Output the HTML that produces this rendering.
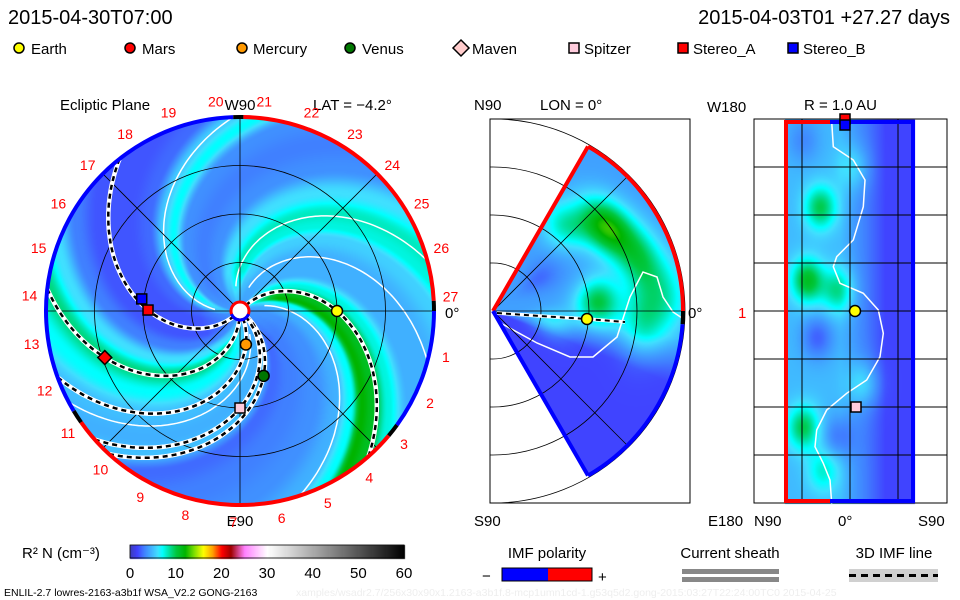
<!DOCTYPE html>
<html><head><meta charset="utf-8">
<style>
html,body{margin:0;padding:0;background:#fff;}
#wrap{position:relative;width:960px;height:600px;overflow:hidden;background:#fff;font-family:"Liberation Sans",sans-serif;}
canvas,svg{position:absolute;left:0;top:0;}
</style></head>
<body>
<div id="wrap">
<canvas id="cv" width="960" height="600"></canvas>
<svg id="sv" width="960" height="600" viewBox="0 0 960 600" font-family="Liberation Sans, sans-serif">
  <text x="8" y="24" font-size="20">2015-04-30T07:00</text>
  <text x="950" y="24" font-size="20" text-anchor="end">2015-04-03T01 +27.27 days</text>
  <g id="legend" font-size="15">
    <g><circle cx="19" cy="48" r="5" fill="#ff0" stroke="#000" stroke-width="1.5"/><text x="31" y="54">Earth</text></g>
    <g><circle cx="130" cy="48" r="5" fill="#f00" stroke="#000" stroke-width="1.5"/><text x="142" y="54">Mars</text></g>
    <g><circle cx="242" cy="48" r="5" fill="#f90" stroke="#000" stroke-width="1.5"/><text x="253" y="54">Mercury</text></g>
    <g><circle cx="350" cy="48" r="5" fill="#070" stroke="#000" stroke-width="1.5"/><text x="362" y="54">Venus</text></g>
    <g><path d="M461 40 L469 48 L461 56 L453 48 Z" fill="#fcc" stroke="#000" stroke-width="1.5"/><text x="472" y="54">Maven</text></g>
    <g><rect x="569" y="43" width="10" height="10" fill="#fcd" stroke="#000" stroke-width="1.5"/><text x="584" y="54">Spitzer</text></g>
    <g><rect x="678" y="43" width="10" height="10" fill="#f00" stroke="#000" stroke-width="1.5"/><text x="693" y="54">Stereo_A</text></g>
    <g><rect x="788" y="43" width="10" height="10" fill="#00f" stroke="#000" stroke-width="1.5"/><text x="803" y="54">Stereo_B</text></g>
  </g>
  <g font-size="15">
    <text x="60" y="110">Ecliptic Plane</text>
    <text x="240" y="110" text-anchor="middle">W90</text>
    <text x="313" y="110">LAT = −4.2°</text>
    <text x="240" y="526" text-anchor="middle">E90</text>
    <text x="474" y="110">N90</text>
    <text x="540" y="110">LON = 0°</text>
    <text x="474" y="526">S90</text>
    <text x="445" y="318">0°</text>
    <text x="688" y="318">0°</text>
    <text x="707" y="112">W180</text>
    <text x="804" y="110">R = 1.0 AU</text>
    <text x="708" y="526">E180</text>
    <text x="754" y="526">N90</text>
    <text x="838" y="526">0°</text>
    <text x="918" y="526">S90</text>
    <text x="738" y="318" fill="#f00">1</text>
  </g>
  <g id="ecl"></g>
  <g id="mer"></g>
  <g id="rgt"></g>
  <g id="cbar">
    <text x="22" y="558" font-size="15">R² N (cm⁻³)</text>
  </g>
  <g font-size="15">
    <text x="547" y="558" text-anchor="middle">IMF polarity</text>
    <text x="482" y="581">−</text>
    <rect x="502" y="568" width="46" height="13" fill="#00f"/>
    <rect x="548" y="568" width="44" height="13" fill="#f00"/>
    <rect x="502" y="568" width="90" height="13" fill="none" stroke="#000"/>
    <text x="598" y="582">+</text>
    <text x="730" y="558" text-anchor="middle">Current sheath</text>
    <rect x="682" y="569" width="97" height="5" fill="#888"/>
    <rect x="682" y="577" width="97" height="5" fill="#888"/>
    <text x="894" y="558" text-anchor="middle">3D IMF line</text>
    <rect x="849" y="569" width="89" height="13" fill="#d0d0d0"/>
    <line x1="849" y1="575.5" x2="938" y2="575.5" stroke="#000" stroke-width="3" stroke-dasharray="7,5"/>
  </g>
  <text x="4" y="596" font-size="10.5">ENLIL-2.7 lowres-2163-a3b1f WSA_V2.2 GONG-2163</text>
  <text x="296" y="596" font-size="10.5" fill="#eee">xamples/wsadr2.7/256x30x90x1.2163-a3b1f.8-mcp1umn1cd-1.g53q5d2.gong-2015:03:27T22:24:00TC0    2015-04-25</text>
</svg>
</div>
<script>
// ---- data ----
const colorStops = [0,1.5,3,4.5,6,7,8.5,10,12,14,16,18,20,22,25,30,60];
const colorRGB = [[60,60,190],[64,64,255],[64,128,255],[64,176,255],[64,224,255],[0,255,255],[0,224,160],[0,200,64],[0,180,0],[128,224,0],[255,255,0],[255,160,0],[255,0,0],[160,0,0],[255,128,255],[255,255,255],[0,0,0]];
const colorbarTicks = [0,10,20,30,40,50,60];
const spiralPhase = [0,15,30,42,52,58,65,75,90,110,125,135,145,160,175,188,200,212,225,245,258,268,275,285,300,315,330,343,352,360];
const spiralDensity = [5.5,4.5,4.5,7.5,11,12,7,4.5,3.5,3,2.5,5,4.5,5,7,9,6,3,2,2,2.5,5.5,7,3.5,3,3.5,6,8,7.5,5.5];
const sheathPhase = [268,345,15,72,138,152];
const bodyNames = ['earth','mars','mercury','venus','spitzer','stereo-a','stereo-b'];
const bodyR = [97,143,34,69,97,92,99];
const bodyTheta = [0,161,80,70,90,180.6,187];
const fieldLineBodies = ['earth','mars','mercury','venus','spitzer','stereo-a'];
const merBlobR = [141,112,155,105,150,175,60,57];
const merBlobLat = [37,50,20,5,-3,5,-12,36];
const merBlobAmp = [8,4,5,6,4,3,2.5,-1.5];
const rgtBlobX = [820,807,837,803,823,863,817,837,853,803];
const rgtBlobY = [207,280,290,427,470,383,337,437,167,140];
const rgtBlobAmp = [5,6,4,5,3,2.5,-2.5,-2,2,-1.5];

const NS='http://www.w3.org/2000/svg';
function mk(tag, attrs, parent){const e=document.createElementNS(NS,tag);for(const k in attrs)e.setAttribute(k,attrs[k]);parent.appendChild(e);return e;}
function cmap(v){
  if(v<=colorStops[0])return colorRGB[0];
  for(let i=1;i<colorStops.length;i++){if(v<=colorStops[i]){const t=(v-colorStops[i-1])/(colorStops[i]-colorStops[i-1]);const a=colorRGB[i-1],b=colorRGB[i];return [a[0]+(b[0]-a[0])*t,a[1]+(b[1]-a[1])*t,a[2]+(b[2]-a[2])*t];}}
  return colorRGB[colorRGB.length-1];
}
function prof(p){p=((p%360)+360)%360;for(let i=1;i<spiralPhase.length;i++){if(p<=spiralPhase[i]){let t=(p-spiralPhase[i-1])/(spiralPhase[i]-spiralPhase[i-1]);t=(1-Math.cos(Math.PI*t))/2;return spiralDensity[i-1]+(spiralDensity[i]-spiralDensity[i-1])*t;}}return spiralDensity[0];}

const CX=240,CY=311,R=194,K=0.5;
const cv=document.getElementById('cv');const ctx=cv.getContext('2d');
const img=ctx.createImageData(960,600);const D=img.data;
function put(x,y,v){const c=cmap(v);const i=(y*960+x)*4;D[i]=c[0];D[i+1]=c[1];D[i+2]=c[2];D[i+3]=255;}
// ecliptic field
for(let y=CY-R;y<=CY+R;y++)for(let x=CX-R;x<=CX+R;x++){const dx=x-CX,dy=y-CY,r=Math.hypot(dx,dy);if(r>R)continue;const th=Math.atan2(dy,dx)*180/Math.PI;let v=prof(th+K*(R-r));if(r<40)v=v*(r/40)+4*(1-r/40);put(x,y,v);}
// meridional field
const MX=493,MY=311,MR=190;
for(let y=119;y<=503;y++)for(let x=MX;x<=MX+MR;x++){const dx=x-MX,dy=MY-y,r=Math.hypot(dx,dy);if(r>MR)continue;const lat=Math.atan2(dy,dx)*180/Math.PI;if(Math.abs(lat)>60)continue;
  let base=lat>-8?4:(lat<-22?1.6:4-(-8-lat)/14*2.4);let v=base;
  for(let i=0;i<merBlobR.length;i++){v+=merBlobAmp[i]*Math.exp(-Math.pow((r-merBlobR[i])/22,2)-Math.pow((lat-merBlobLat[i])/13,2));}
  put(x,y,v);}
// right panel field
for(let y=119;y<=503;y++)for(let x=785;x<=914;x++){let base=x<840?4.8:(x>885?1.6:4.8-(x-840)/45*3.2);let v=base;
  for(let i=0;i<rgtBlobX.length;i++){v+=rgtBlobAmp[i]*Math.exp(-Math.pow((x-rgtBlobX[i])/16,2)-Math.pow((y-rgtBlobY[i])/22,2));}
  put(x,y,v);}
// colorbar
for(let x=130;x<=404;x++){const v=(x-130)/274*60;for(let y=545;y<=558;y++)put(x,y,v);}
ctx.putImageData(img,0,0);

// ---- ecliptic overlay ----
const ecl=document.getElementById('ecl');
function spiralPts(psi,r0,r1,cx,cy){const pts=[];for(let r=r0;r<=r1;r+=2){const th=(psi-K*(R-r))*Math.PI/180;pts.push((cx+r*Math.cos(th)).toFixed(1)+','+(cy+r*Math.sin(th)).toFixed(1));}return pts.join(' ');}
sheathPhase.forEach((p,i)=>{const l=mk('polyline',{points:spiralPts(p,25,R,CX,CY),fill:'none',stroke:'#fff','stroke-width':1.5},ecl);
  
  });
[48.5,97,145.5].forEach((rr,i)=>{const c=mk('circle',{cx:CX,cy:CY,r:rr,fill:'none',stroke:'#000','stroke-width':0.8},ecl);
  
  });
[0,45,90,135].forEach(a=>{const t=a*Math.PI/180;const l=mk('line',{x1:CX-R*Math.cos(t),y1:CY-R*Math.sin(t),x2:CX+R*Math.cos(t),y2:CY+R*Math.sin(t),stroke:'#000','stroke-width':0.8},ecl);
  
  });
fieldLineBodies.forEach(n=>{const i=bodyNames.indexOf(n);const psi=bodyTheta[i]+K*(R-bodyR[i]);const pts=spiralPts(psi,8,R,CX,CY);
  const w=mk('polyline',{points:pts,fill:'none',stroke:'#fff','stroke-width':4.5},ecl);
  
  
  const b=mk('polyline',{points:pts,fill:'none',stroke:'#000','stroke-width':2.5,'stroke-dasharray':'5,4'},ecl);
  
  });
function arc(cx,cy,r,a0,a1,col,w,g,name){const p0=[cx+r*Math.cos(a0*Math.PI/180),cy+r*Math.sin(a0*Math.PI/180)],p1=[cx+r*Math.cos(a1*Math.PI/180),cy+r*Math.sin(a1*Math.PI/180)];const large=(a1-a0)>180?1:0;
  const e=mk('path',{d:`M${p0[0]},${p0[1]} A${r},${r} 0 ${large} 1 ${p1[0]},${p1[1]}`,fill:'none',stroke:col,'stroke-width':w},g);
  
  }
arc(CX,CY,R,-89,-3,'#f00',4,ecl,'rim-positive-1');
arc(CX,CY,R,-3,0,'#000',4,ecl,'rim-tick');
arc(CX,CY,R,0,36,'#00f',4,ecl,'rim-negative-1');
arc(CX,CY,R,36,40,'#000',4,ecl,'rim-tick');
arc(CX,CY,R,40,145,'#f00',4,ecl,'rim-positive-2');
arc(CX,CY,R,145,149,'#000',4,ecl,'rim-tick');
arc(CX,CY,R,149,268,'#00f',4,ecl,'rim-negative-2');
arc(CX,CY,R,268,271,'#000',4,ecl,'rim-tick');
const sun=mk('circle',{cx:CX,cy:CY,r:9,fill:'#fff',stroke:'#f00','stroke-width':3},ecl);


arc(CX,CY,9,20,160,'#00f',3,ecl,'sun-polarity');
for(let n=1;n<=27;n++){const a=(n===27?-4:12.6+13.2*(n-1))*Math.PI/180;const t=mk('text',{x:CX+211*Math.cos(a),y:CY+211*Math.sin(a)+5,'font-size':14,fill:'#f00','text-anchor':'middle'},ecl);t.textContent=n;
  
  }
function body(g,n,x,y){let e;
  if(n==='earth'||n==='mercury'||n==='venus'){e=mk('circle',{cx:x,cy:y,r:5.5,fill:{earth:'#ff0',mercury:'#f90',venus:'#070'}[n],stroke:'#000','stroke-width':1.5},g);}
  else if(n==='mars'){e=mk('path',{d:`M${x} ${y-7}L${x+7} ${y}L${x} ${y+7}L${x-7} ${y}Z`,fill:'#f00',stroke:'#000','stroke-width':1.5},g);}
  else{e=mk('rect',{x:x-5,y:y-5,width:10,height:10,fill:{spitzer:'#fcd','stereo-a':'#f00','stereo-b':'#00f'}[n],stroke:'#000','stroke-width':1.5},g);}
  
  }
['stereo-b','stereo-a','mars','mercury','venus','spitzer','earth'].forEach(n=>{const i=bodyNames.indexOf(n);const t=bodyTheta[i]*Math.PI/180;body(ecl,n,CX+bodyR[i]*Math.cos(t),CY+bodyR[i]*Math.sin(t));});

// ---- meridional overlay ----
const mer=document.getElementById('mer');
const mb=mk('rect',{x:490,y:119,width:200,height:384,fill:'none',stroke:'#000','stroke-width':1},mer);


const sheathM=[[495,320],[537,343],[570,357],[593,357],[617,337],[630,297],[643,272],[657,277],[663,297],[673,312],[682,318]];
const sm=mk('polyline',{points:sheathM.map(p=>p.join(',')).join(' '),fill:'none',stroke:'#fff','stroke-width':1.5},mer);


[48,96,144,192].forEach(rr=>{const e=mk('path',{d:`M${MX},${MY-rr} A${rr},${rr} 0 0 1 ${MX},${MY+rr}`,fill:'none',stroke:'#000','stroke-width':0.8},mer);
  
  
  const e2=mk('line',{x1:490,y1:MY-rr,x2:MX,y2:MY-rr,stroke:'#000','stroke-width':0.8},mer);
  
  
  const e3=mk('line',{x1:490,y1:MY+rr,x2:MX,y2:MY+rr,stroke:'#000','stroke-width':0.8},mer);
  
  });
[45,0,-45].forEach(a=>{const t=a*Math.PI/180;const l=mk('line',{x1:MX,y1:MY,x2:MX+MR*Math.cos(t),y2:MY-MR*Math.sin(t),stroke:'#000','stroke-width':0.8},mer);
  
  });
function mpt(r,lat){const t=lat*Math.PI/180;return [MX+r*Math.cos(t),MY-r*Math.sin(t)];}
const tc=mpt(MR,60),bc=mpt(MR,-60);
const ue=mk('line',{x1:MX,y1:MY,x2:tc[0],y2:tc[1],stroke:'#f00','stroke-width':4},mer);


const le=mk('line',{x1:MX,y1:MY,x2:bc[0],y2:bc[1],stroke:'#00f','stroke-width':4},mer);


arc(MX,MY,MR,-60,0,'#f00',4,mer,'wedge-arc-positive');
arc(MX,MY,MR,0,4,'#000',4,mer,'wedge-arc-tick');
arc(MX,MY,MR,4,60,'#00f',4,mer,'wedge-arc-negative');
const ml=mk('polyline',{points:'497,313 540,316 587,319 625,322',fill:'none',stroke:'#fff','stroke-width':3.5},mer);


const ml2=mk('polyline',{points:'497,313 540,316 587,319 625,322',fill:'none',stroke:'#000','stroke-width':2,'stroke-dasharray':'5,4'},mer);


body(mer,'earth',587,319);

// ---- right panel overlay ----
const rg=document.getElementById('rgt');
const rb=mk('rect',{x:754,y:119,width:193,height:384,fill:'none',stroke:'#000','stroke-width':1},rg);


const sheathZ=[[1085,95],[1090,170],[1150,210],[1185,270],[1180,350],[1150,450],[1100,500],[1090,530],[1110,580],[1180,610],[1225,660],[1240,730],[1230,800],[1190,870],[1130,910],[1070,960],[1040,1020],[1035,1070],[1060,1120],[1080,1170],[1085,1240]];
const sr=mk('polyline',{points:sheathZ.map(p=>(470+p[0]/3).toFixed(1)+','+(90+p[1]/3).toFixed(1)).join(' '),fill:'none',stroke:'#fff','stroke-width':1.5},rg);


[167,215,263,311,359,407,455].forEach(y=>{const l=mk('line',{x1:754,y1:y,x2:947,y2:y,stroke:'#000','stroke-width':1},rg);
  
  });
[802,850,898].forEach(x=>{const l=mk('line',{x1:x,y1:119,x2:x,y2:503,stroke:'#000','stroke-width':1},rg);
  
  });
[['M786,503 L786,122 L830,122','#f00'],['M830,122 L913,122 L913,501 L830,501','#00f'],['M786,501 L830,501','#f00']].forEach(s=>{const p=mk('path',{d:s[0],fill:'none',stroke:s[1],'stroke-width':4},rg);
  
  });
body(rg,'stereo-a',845,119);
body(rg,'stereo-b',845,125);
body(rg,'spitzer',856,407);
body(rg,'earth',855,311);

const cb=document.getElementById('cbar');
const cbf=mk('rect',{x:130,y:545,width:274,height:13,fill:'none',stroke:'#000','stroke-width':0.8},cb);


colorbarTicks.forEach(v=>{const x=130+v/60*274;const t=mk('text',{x:x,y:578,'font-size':15,'text-anchor':'middle'},cb);t.textContent=v;
  
  });
</script>
</body></html>
